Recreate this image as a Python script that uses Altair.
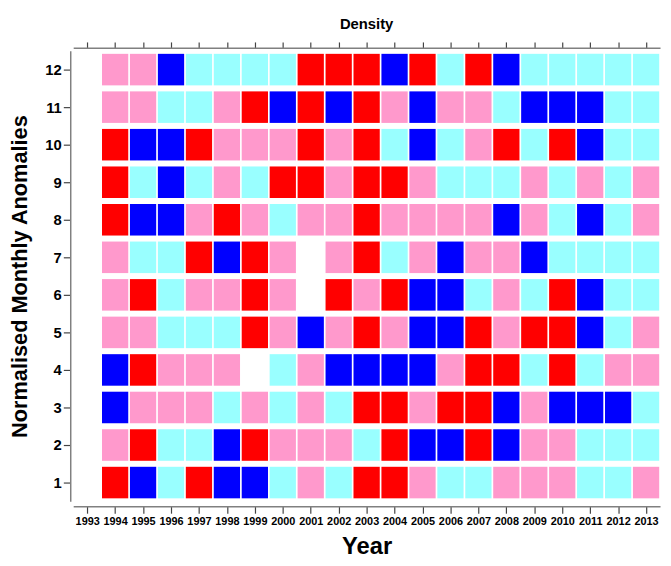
import altair as alt
import pandas as pd

# Anomaly class codes per year (1994..2013) for each month.
# R = strong positive, P = positive, C = negative, B = strong negative, W = missing
years = list(range(1994, 2014))
month_12 = list("PPBCCCCRRRBRCRBCCCCC")
month_11 = list("PPCCPRBRBRPBPPCBBBCC")
month_10 = list("RBBRPPPRPRCBCPRCRBCC")
month_9 = list("RCBCPCRRPRRPCCCPCPCP")
month_8 = list("RBBPRPCPPRPPPPBPCBCP")
month_7 = list("PCCRBRPWPRCPBPPBCCCC")
month_6 = list("PRCPPRPWRPRBBCPCRBCC")
month_5 = list("PPCCCRPBPRPBBRPRRBCP")
month_4 = list("BRPPPWCPBBBBPRRCRCPP")
month_3 = list("BPPPCPCPCRRPRRBPBBBC")
month_2 = list("PRCCBRPPPCRBBRBPPCCC")
month_1 = list("RBCRBBCPCRRPCCPPPCCP")

rows = {1: month_1, 2: month_2, 3: month_3, 4: month_4, 5: month_5, 6: month_6,
        7: month_7, 8: month_8, 9: month_9, 10: month_10, 11: month_11, 12: month_12}

class_codes = ["R", "P", "C", "B"]
class_colors = ["#ff0000", "#ff99cc", "#99ffff", "#0000ff"]
x_ticks = list(range(1993, 2014))
y_ticks = list(range(1, 13))

records = []
for m, codes in rows.items():
    for y, c in zip(years, codes):
        if c != "W":
            records.append({"year": y, "month": m, "cls": c})
df = pd.DataFrame(records)

base = alt.Chart(df).transform_calculate(
    x0="datum.year - 0.47", x1="datum.year + 0.47",
    y0="datum.month - 0.42", y1="datum.month + 0.42",
)

xscale = alt.Scale(domain=[1992.5, 2013.5], nice=False, zero=False)
yscale = alt.Scale(domain=[0.5, 12.5], nice=False, zero=False)

yaxis = alt.Axis(values=y_ticks, format="d", title="Normalised Monthly Anomalies",
                 offset=3, tickSize=7, labelPadding=2, labelFontSize=15,
                 titleFontSize=22, titlePadding=14, labelFlush=False)

heat = base.mark_rect().encode(
    x=alt.X("x0:Q", scale=xscale,
            axis=alt.Axis(values=x_ticks, format="d", title="Year", orient="bottom",
                          offset=5, tickSize=7, labelPadding=2, labelFontSize=11,
                          titleFontSize=24, titlePadding=9, labelFlush=False,
                          labelOverlap=False)),
    x2="x1:Q",
    y=alt.Y("y0:Q", scale=yscale, axis=yaxis),
    y2="y1:Q",
    color=alt.Color("cls:N", scale=alt.Scale(domain=class_codes, range=class_colors),
                    legend=None),
)

top = base.mark_rect(opacity=0).encode(
    x=alt.X("x0:Q", scale=xscale,
            axis=alt.Axis(values=x_ticks, labels=False, title=None, orient="top",
                          offset=3, tickSize=6)),
    x2="x1:Q",
    y=alt.Y("y0:Q", scale=yscale, axis=yaxis),
    y2="y1:Q",
)

chart = alt.layer(heat, top).resolve_axis(x="independent").properties(
    width=594, height=456,
    title=alt.TitleParams("Density", fontSize=15, fontWeight="bold", anchor="middle",
                          offset=9, font="Liberation Sans", color="#000000"),
    autosize=alt.AutoSizeParams(type="none"),
    padding={"left": 66, "top": 40, "right": 3, "bottom": 54},
).configure_view(stroke=None).configure_axis(
    grid=False,
    domainColor="#808080", domainWidth=1.5,
    tickColor="#444444", tickWidth=1.2,
    labelFont="Liberation Sans", labelFontWeight="bold", labelColor="#000000",
    titleFont="Liberation Sans", titleFontWeight="bold", titleColor="#000000",
)

chart.save("out.html", embed_options={"renderer": "svg", "actions": False})
